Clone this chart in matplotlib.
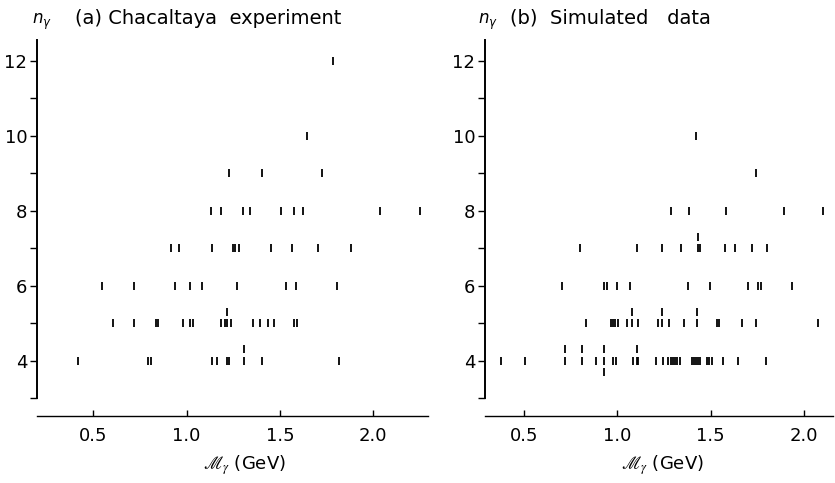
import matplotlib.pyplot as plt
from matplotlib.ticker import FixedLocator

plt.rcParams['font.family'] = 'DejaVu Sans'
plt.rcParams['mathtext.fontset'] = 'stix'

# invariant mass (GeV) of the gamma-ray families, grouped by multiplicity n_gamma
# (a) Chacaltaya experiment
exp_m4 = [0.42, 0.795, 0.81, 1.134, 1.161, 1.214, 1.229, 1.309, 1.309, 1.402, 1.816]
exp_m5 = [0.607, 0.72, 0.835, 0.845, 0.982, 1.018, 1.032, 1.184, 1.205, 1.214, 1.214,
          1.236, 1.357, 1.393, 1.437, 1.468, 1.577, 1.589]
exp_m6 = [0.545, 0.72, 0.939, 1.02, 1.082, 1.271, 1.532, 1.588, 1.804]
exp_m7 = [0.916, 0.959, 1.134, 1.246, 1.261, 1.279, 1.45, 1.566, 1.705, 1.879]
exp_m8 = [1.13, 1.182, 1.304, 1.339, 1.504, 1.577, 1.625, 2.036, 2.25]
exp_m9 = [1.227, 1.405, 1.727]
exp_m10 = [1.643]
exp_m12 = [1.786]

# (b) simulated data
sim_m4 = [0.377, 0.505, 0.72, 0.72, 0.81, 0.81, 0.885, 0.93, 0.93, 0.93, 0.978, 0.992,
          1.082, 1.105, 1.105, 1.11, 1.205, 1.245, 1.27, 1.29, 1.30, 1.31, 1.32, 1.335,
          1.40, 1.41, 1.42, 1.432, 1.445, 1.478, 1.49, 1.505, 1.565, 1.645, 1.795]
sim_m5 = [0.83, 0.965, 0.978, 0.99, 1.005, 1.05, 1.077, 1.077, 1.11, 1.22, 1.237, 1.237,
          1.275, 1.355, 1.425, 1.425, 1.532, 1.546, 1.666, 1.745, 2.073]
sim_m6 = [0.704, 0.929, 0.943, 0.996, 1.068, 1.379, 1.496, 1.701, 1.755, 1.768, 1.934]
sim_m7 = [0.80, 1.105, 1.238, 1.339, 1.434, 1.434, 1.443, 1.578, 1.63, 1.723, 1.803]
sim_m8 = [1.286, 1.386, 1.58, 1.893, 2.104]
sim_m9 = [1.743]
sim_m10 = [1.421]

exp_rows = [(4, exp_m4), (5, exp_m5), (6, exp_m6), (7, exp_m7), (8, exp_m8),
            (9, exp_m9), (10, exp_m10), (12, exp_m12)]
sim_rows = [(4, sim_m4), (5, sim_m5), (6, sim_m6), (7, sim_m7), (8, sim_m8),
            (9, sim_m9), (10, sim_m10)]

y_ticks = [4, 6, 8, 10, 12]
y_minor = [3, 5, 7, 9, 11]
x_ticks = [0.5, 1.0, 1.5, 2.0]
x_labels = ['0.5', '1.0', '1.5', '2.0']

# repeated events at the same mass are stacked above/below the row
stack_shift = [0.0, 0.3, -0.3]


def draw_panel(ax, rows, xlim, label_x):
    for n, masses in rows:
        seen = {}
        xs, ys = [], []
        for m in masses:
            k = seen.get(m, 0)
            seen[m] = k + 1
            xs.append(m)
            ys.append(n + stack_shift[k])
        ax.plot(xs, ys, ls='none', marker='|', ms=6.3, mew=1.3, color='black')

    ax.set_xlim(*xlim)
    ax.set_ylim(2.53, 12.6)
    ax.spines['top'].set_visible(False)
    ax.spines['right'].set_visible(False)
    ax.spines['left'].set_bounds(3, 12.55)
    ax.spines['left'].set_linewidth(1.4)
    ax.spines['bottom'].set_linewidth(1.0)

    ax.yaxis.set_major_locator(FixedLocator(y_ticks))
    ax.yaxis.set_minor_locator(FixedLocator(y_minor))
    ax.tick_params(axis='y', which='both', direction='out', length=5, width=1,
                   pad=2, labelsize=13)
    ax.set_xticks(x_ticks)
    ax.set_xticklabels(x_labels)
    ax.tick_params(axis='x', direction='in', length=4, width=1, pad=8, labelsize=13)
    ax.set_xlabel(r'$\mathscr{M}_\gamma$ (GeV)', fontsize=13)
    ax.xaxis.set_label_coords(label_x, -0.1)


fig = plt.figure(figsize=(8.35, 4.83), dpi=100)
ax_a = fig.add_axes([0.0443, 0.1393, 0.4683, 0.7816])
ax_b = fig.add_axes([0.5808, 0.1393, 0.4168, 0.7816])

draw_panel(ax_a, exp_rows, (0.198, 2.293), 0.53)
draw_panel(ax_b, sim_rows, (0.291, 2.155), 0.51)

W, H = 835, 483
fig.text(32 / W, 1 - 22 / H, r'$n_\gamma$', fontsize=12, va='center',
         math_fontfamily='dejavusans')
fig.text(75 / W, 1 - 18 / H, '(a) Chacaltaya  experiment', fontsize=14, va='center')
fig.text(478 / W, 1 - 22 / H, r'$n_\gamma$', fontsize=12, va='center',
         math_fontfamily='dejavusans')
fig.text(510 / W, 1 - 18 / H, '(b)  Simulated   data', fontsize=14, va='center')

fig.savefig('out.png', dpi=100)
